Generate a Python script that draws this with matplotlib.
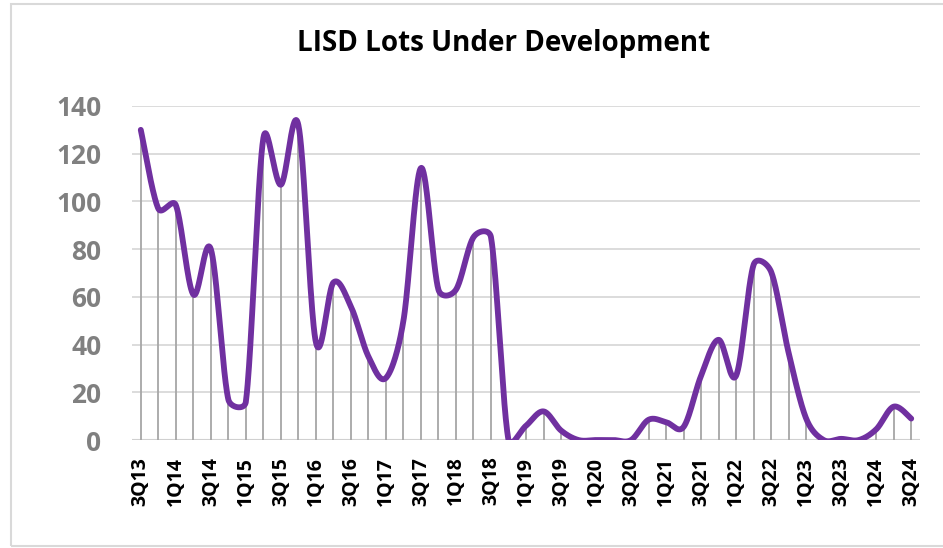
import numpy as np
import matplotlib
matplotlib.use("Agg")
import matplotlib.pyplot as plt
from matplotlib.patches import Rectangle

title = "LISD Lots Under Development"
quarters = ["3Q13", "4Q13", "1Q14", "2Q14", "3Q14", "4Q14", "1Q15", "2Q15", "3Q15", "4Q15",
            "1Q16", "2Q16", "3Q16", "4Q16", "1Q17", "2Q17", "3Q17", "4Q17", "1Q18", "2Q18",
            "3Q18", "4Q18", "1Q19", "2Q19", "3Q19", "4Q19", "1Q20", "2Q20", "3Q20", "4Q20",
            "1Q21", "2Q21", "3Q21", "4Q21", "1Q22", "2Q22", "3Q22", "4Q22", "1Q23", "2Q23",
            "3Q23", "4Q23", "1Q24", "2Q24", "3Q24"]
lots = [130, 97, 98.5, 61, 80, 17, 16, 126.5, 107, 132,
        41, 66, 56, 35, 26, 50, 114, 63, 63, 85,
        85, 0, 6, 12, 4, 0, 0, 0, 0, 8.5,
        7.5, 5.5, 27, 42, 27, 73.5, 70.5, 36.5, 9, 0,
        0.5, 0, 4.5, 14, 9]
yticks = [0, 20, 40, 60, 80, 100, 120, 140]

FONT = ["Open Sans", "DejaVu Sans"]
PURPLE = "#7030A0"

fig = plt.figure(figsize=(9.43, 5.48), dpi=100)
ax = fig.add_axes([0.14, 0.197, 0.8356, 0.6096])
ax.set_xlim(-0.5, len(lots) - 0.5)
ax.set_ylim(0, 140)

x = np.arange(len(lots), dtype=float)
y = np.array(lots, dtype=float)

# Excel-like smoothed line: cubic Bezier, computed in display space
fig.canvas.draw()
P = ax.transData.transform(np.column_stack([x, y]))
n = len(P)
t = np.linspace(0, 1, 40)[:, None]
pts = []
for i in range(n - 1):
    p0 = P[max(i - 1, 0)]
    p1 = P[i]
    p2 = P[i + 1]
    p3 = P[min(i + 2, n - 1)]
    d12 = np.hypot(*(p2 - p1))
    d02 = np.hypot(*(p2 - p0))
    d13 = np.hypot(*(p3 - p1))
    f0 = min(1 / 6, d12 / (2 * d02)) if d02 > 0 else 0
    f1 = min(1 / 6, d12 / (2 * d13)) if d13 > 0 else 0
    c1 = p1 + f0 * (p2 - p0)
    c2 = p2 - f1 * (p3 - p1)
    b = (1 - t) ** 3 * p1 + 3 * (1 - t) ** 2 * t * c1 + 3 * (1 - t) * t ** 2 * c2 + t ** 3 * p2
    pts.append(b if i == 0 else b[1:])
curve = ax.transData.inverted().transform(np.vstack(pts))

for yt in yticks[1:]:
    ax.axhline(yt, color="#d9d9d9", lw=1.3, zorder=1)
ax.axhline(0, color="#d0d0d0", lw=1.5, zorder=1)

ax.vlines(x, 0, y, color="#a6a6a6", lw=1.3, zorder=2)
ax.plot(curve[:, 0], curve[:, 1], color=PURPLE, lw=4.2, solid_capstyle="round",
        solid_joinstyle="round", zorder=3)

ax.set_yticks(yticks)
ax.set_yticklabels([str(v) for v in yticks], fontsize=19, fontweight="bold",
                   color="#808080", family=FONT)
ax.set_xticks(x[::2])
ax.set_xticklabels(quarters[::2], rotation=90, fontsize=14, fontweight="bold",
                   color="black", family=FONT)
ax.tick_params(axis="y", length=0, pad=22)
ax.tick_params(axis="x", length=0, pad=12)
for s in ax.spines.values():
    s.set_visible(False)
ax.set_facecolor("none")

fig.text(0.534, 0.921, title, ha="center", va="center", fontsize=20,
         fontweight="bold", family=FONT, color="black")

fig.patches.append(Rectangle((11 / 943, 1 - 546 / 548), 2.0, (546 - 4) / 548,
                             transform=fig.transFigure, fill=False,
                             edgecolor="#d9d9d9", lw=1.5, zorder=0))

fig.savefig("out.png", dpi=100, facecolor="white")
